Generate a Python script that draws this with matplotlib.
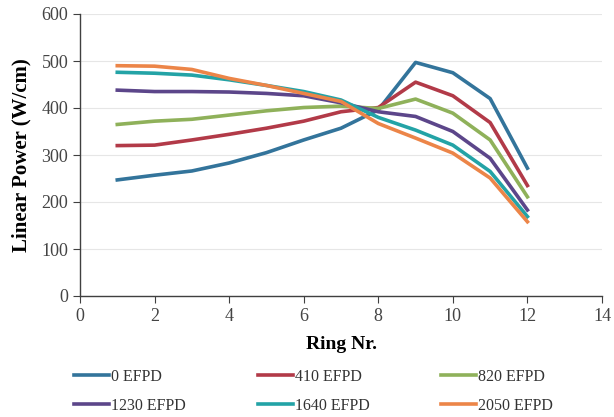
import matplotlib.pyplot as plt

plt.rcParams['font.family'] = ['Liberation Serif', 'DejaVu Serif']

rings = [1, 2, 3, 4, 5, 6, 7, 8, 9, 10, 11, 12]
labels = ["0 EFPD", "410 EFPD", "820 EFPD", "1230 EFPD", "1640 EFPD", "2050 EFPD"]
p0 = [247, 257, 266, 283, 305, 332, 357, 396, 497, 475, 420, 272]
p410 = [320, 321, 332, 344, 357, 372, 392, 401, 455, 426, 369, 235]
p820 = [365, 372, 376, 385, 394, 401, 404, 399, 419, 389, 332, 211]
p1230 = [438, 435, 435, 434, 431, 426, 411, 392, 382, 350, 293, 183]
p1640 = [476, 474, 470, 460, 448, 435, 417, 380, 353, 321, 265, 169]
p2050 = [490, 489, 482, 463, 448, 431, 414, 367, 336, 304, 251, 158]
colors = ["#33749b", "#b23a48", "#8fb15a", "#5c468a", "#23a3a6", "#ec8548"]

fig = plt.figure(figsize=(6.14, 4.17), dpi=100)
ax = fig.add_axes([80 / 614, 1 - 296 / 417, 522 / 614, 282 / 417])

lines = []
for y, lab, c in zip([p0, p410, p820, p1230, p1640, p2050], labels, colors):
    ln, = ax.plot(rings, y, color=c, lw=2.6, label=lab)
    lines.append(ln)

ax.set_xlim(0, 14)
ax.set_ylim(0, 600)
ax.set_xticks(range(0, 15, 2))
ax.set_yticks(range(0, 601, 100))
ax.grid(axis='y', color='#e6e6e6', lw=0.8)
ax.set_axisbelow(True)
for s in ['top', 'right']:
    ax.spines[s].set_visible(False)
for s in ['left', 'bottom']:
    ax.spines[s].set_color('#404040')
    ax.spines[s].set_linewidth(1.0)
ax.tick_params(direction='out', length=5, color='#404040', labelsize=13, labelcolor='#444444')
ax.set_xlabel("Ring Nr.", fontsize=14, fontweight='bold', labelpad=8)
ax.set_ylabel("Linear Power (W/cm)", fontsize=15, fontweight='bold', labelpad=7)

# legend laid out as three fixed columns, filled row by row
col_x = [74, 258, 441]
for i, x in enumerate(col_x):
    leg = fig.legend(handles=[lines[i], lines[i + 3]], loc='upper left',
                     bbox_to_anchor=(x / 614, 1 - 369 / 417), frameon=False,
                     fontsize=11.5, handlelength=2.2, handletextpad=0.1,
                     labelspacing=0.8, borderpad=0, borderaxespad=0)
    for t in leg.get_texts():
        t.set_color('#333333')

fig.savefig("out.png", dpi=100)
